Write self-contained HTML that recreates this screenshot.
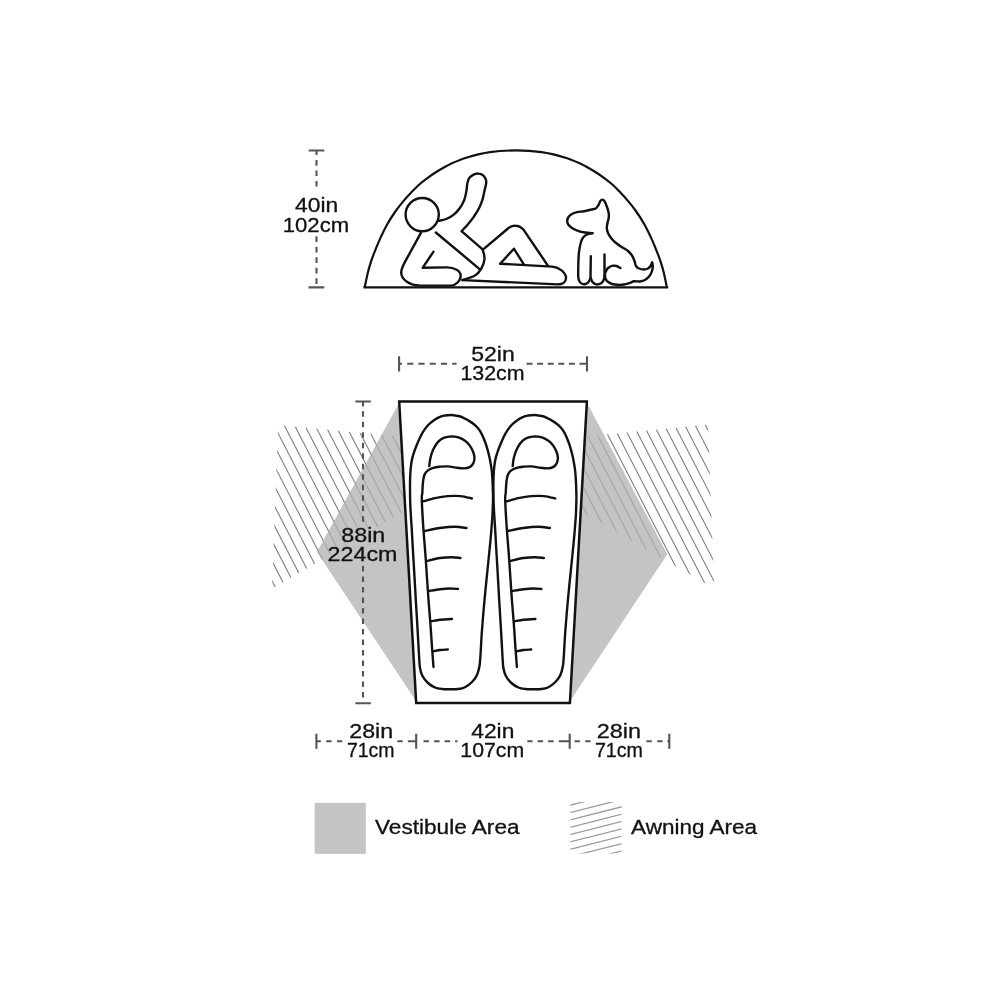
<!DOCTYPE html>
<html><head><meta charset="utf-8"><title>Tent dimensions</title>
<style>
html,body{margin:0;padding:0;background:#fff;}
body{width:1000px;height:1000px;overflow:hidden;font-family:"Liberation Sans",sans-serif;}
svg{display:block;}
</style></head><body>
<svg width="1000" height="1000" viewBox="0 0 1000 1000">
<rect width="1000" height="1000" fill="#fff"/>
<path d="M399.2 403L317 552L413.8 697.5L416 702Z" fill="#c4c4c4"/>
<path d="M587 403L667.2 554.2L573 696.5L570.2 702Z" fill="#c4c4c4"/>
<defs><clipPath id="cl"><path d="M278 424.9L400.5 436.7L404.6 511.6L272 588.8Z"/></clipPath><clipPath id="cr"><path d="M708 424.5L586 436.4L582 511.8L714.2 588.4Z"/></clipPath></defs>
<path clip-path="url(#cl)" d="M150.6 405L264 625M160.8 405L274.2 625M171.1 405L284.5 625M181.4 405L294.8 625M191.6 405L305 625M201.9 405L315.3 625M212.2 405L325.6 625M222.4 405L335.8 625M232.7 405L346.1 625M243 405L356.4 625M253.3 405L366.7 625M263.5 405L376.9 625M273.8 405L387.2 625M284.1 405L397.5 625M294.3 405L407.7 625M304.6 405L418 625M314.9 405L428.3 625M325.1 405L438.5 625M335.4 405L448.8 625M345.7 405L459.1 625M356 405L469.4 625M366.2 405L479.6 625M376.5 405L489.9 625M386.8 405L500.2 625M397 405L510.4 625M407.3 405L520.7 625M417.6 405L531 625" stroke="#7e7e7e" stroke-width="1.1" fill="none"/>
<path clip-path="url(#cr)" d="M473.7 414L587.1 634M484 414L597.4 634M494.3 414L607.7 634M504.5 414L617.9 634M514.8 414L628.2 634M525.1 414L638.5 634M535.3 414L648.7 634M545.6 414L659 634M555.9 414L669.3 634M566.2 414L679.6 634M576.4 414L689.8 634M586.7 414L700.1 634M597 414L710.4 634M607.2 414L720.6 634M617.5 414L730.9 634M627.8 414L741.2 634M638 414L751.4 634M648.3 414L761.7 634M658.6 414L772 634M668.9 414L782.3 634M679.1 414L792.5 634M689.4 414L802.8 634M699.7 414L813.1 634M709.9 414L823.3 634M720.2 414L833.6 634M730.5 414L843.9 634M740.7 414L854.1 634" stroke="#7e7e7e" stroke-width="1.1" fill="none"/>
<path d="M399.2 403L317 552L413.8 697.5L416 702ZM587 403L667.2 554.2L573 696.5L570.2 702Z" fill="#c4c4c4" opacity="0.55"/>
<path d="M399.2 401.5L586.9 401.5L569.9 703L416.2 703Z" fill="#fff" stroke="#111" stroke-width="2.5" stroke-linejoin="miter"/>
<g fill="none" stroke="#111" stroke-width="2.4" stroke-linecap="round" stroke-linejoin="round">
<path d="M419 655C418.6 648.7 418.1 639.2 417.6 630C417 620.8 416.4 610.8 415.8 600C415.2 589.2 414.5 576.7 413.8 565C413.1 553.3 412.3 540 411.8 530C411.2 520 410.6 512.7 410.3 505C410 497.3 410 489.5 410 484C410 478.5 410.2 475.3 410.4 472C410.6 468.7 410.9 466.4 411.2 464C411.5 461.6 411.9 459.7 412.4 457.6C412.9 455.5 413.6 453.5 414.4 451.2C415.2 448.9 416.2 446.4 417.2 444C418.2 441.6 419.3 439.1 420.4 436.8C421.5 434.5 422.7 432.3 424 430.4C425.3 428.5 426.4 426.9 428 425.2C429.6 423.5 431.6 421.8 433.6 420.4C435.6 419 438.1 417.6 440 416.8C441.9 415.9 443.2 415.8 445 415.5C446.8 415.2 449 415 451 415C453 415 455.2 415.4 457 415.8C458.8 416.1 460.1 416.4 462 417.2C463.9 418.1 466.4 419.2 468.6 420.6C470.8 421.9 473.1 423.5 475 425.2C476.9 426.9 478.4 428.6 479.8 430.7C481.2 432.8 482.3 435.2 483.4 437.8C484.5 440.4 485.7 443.5 486.6 446.4C487.5 449.3 488.3 452.4 489 455.2C489.7 458 490.1 460.5 490.6 463.2C491.1 465.9 491.5 468.5 491.8 471.2C492.1 473.9 492.2 476.4 492.4 479.2C492.6 482 492.7 484.5 492.8 488C492.9 491.5 493.1 495.5 493 500C492.9 504.5 492.7 510.5 492.5 515C492.3 519.5 491.9 522.8 491.6 527C491.3 531.2 491.1 533.7 490.5 540C489.9 546.3 489 555 488 565C487 575 485.5 589.2 484.5 600C483.5 610.8 482.7 620.8 482 630C481.3 639.2 480.9 649 480.5 655C480.1 661 480.1 662.7 479.5 666C478.9 669.3 478.2 672.3 477 675C475.8 677.7 474 680 472 682C470 684 467.3 686 465 687.2C462.7 688.4 460.5 688.7 458 689C455.5 689.3 452.7 689.2 450 689.2C447.3 689.2 444.5 689.3 442 689C439.5 688.7 437.3 688.5 435 687.5C432.7 686.5 430.1 684.9 428 683C425.9 681.1 423.8 678.5 422.5 676C421.2 673.5 420.6 671.5 420 668C419.4 664.5 419.4 661.3 419 655ZM429.3 466C429.5 465.1 429.6 462.3 430 460.1C430.5 457.9 431 455.3 431.8 453.1C432.6 450.9 433.4 448.8 434.6 446.8C435.8 444.8 437.2 442.7 438.8 441.2C440.4 439.7 442.3 438.5 444.4 437.7C446.5 436.9 449.1 436.5 451.4 436.4C453.7 436.4 456.2 436.7 458.4 437.3C460.6 438 462.8 439.2 464.7 440.5C466.6 441.8 468.2 443.5 469.6 445.4C471 447.3 472.3 449.6 473.1 451.7C473.9 453.8 474.5 456 474.5 458C474.5 460 473.9 462.1 473.1 463.6C472.3 465.1 471.1 466.3 469.6 467.1C468.1 467.9 466.1 468.2 464 468.4C461.9 468.5 459.7 468.1 457 467.8C454.3 467.5 450.8 466.6 447.9 466.4C445 466.2 442.1 466.5 439.5 466.7C436.9 467 434.5 467.5 432.5 468.1C430.5 468.8 428.9 469.6 427.6 470.6C426.3 471.6 425.5 472.7 424.8 474.1C424.1 475.5 423.7 477 423.4 479C423 481 422.9 483.7 422.7 486C422.5 488.3 422.5 490.7 422.3 493C422.2 495.3 421.6 493.8 421.8 500C422 506.2 422.8 520 423.5 530C424.2 540 425 548.3 425.8 560C426.6 571.7 427.7 589.2 428.5 600C429.3 610.8 429.9 616.7 430.5 625C431.1 633.3 431.7 643 432.2 650C432.7 657 433.3 664.2 433.5 667M423 501.4C425 500.9 430.9 499.1 435 498.2C439.1 497.3 443.5 496.5 447.8 496.1C452.1 495.8 456.6 495.7 460.6 496.1C464.6 496.5 469.9 498.1 471.8 498.5M424.5 531C427.1 530.5 434.9 528.7 440 528C445.1 527.3 450.6 526.8 455 526.8C459.4 526.8 464.6 527.8 466.5 528M426.5 561C428.8 560.5 435.8 558.6 440 558C444.2 557.4 448.6 557.2 452 557.2C455.4 557.2 459.1 557.9 460.5 558M429 591C430.8 590.7 436.5 589.6 440 589.2C443.5 588.8 447 588.5 450 588.5C453 588.5 456.7 588.9 458 589M431 621.2C432.5 621 436.5 620.2 440 619.8C443.5 619.4 450 619.1 452 619M432.8 651.5C434 651.2 437.5 650.3 440 650C442.5 649.7 446.5 649.6 447.8 649.5"/>
<path d="M419 655C418.6 648.7 418.1 639.2 417.6 630C417 620.8 416.4 610.8 415.8 600C415.2 589.2 414.5 576.7 413.8 565C413.1 553.3 412.3 540 411.8 530C411.2 520 410.6 512.7 410.3 505C410 497.3 410 489.5 410 484C410 478.5 410.2 475.3 410.4 472C410.6 468.7 410.9 466.4 411.2 464C411.5 461.6 411.9 459.7 412.4 457.6C412.9 455.5 413.6 453.5 414.4 451.2C415.2 448.9 416.2 446.4 417.2 444C418.2 441.6 419.3 439.1 420.4 436.8C421.5 434.5 422.7 432.3 424 430.4C425.3 428.5 426.4 426.9 428 425.2C429.6 423.5 431.6 421.8 433.6 420.4C435.6 419 438.1 417.6 440 416.8C441.9 415.9 443.2 415.8 445 415.5C446.8 415.2 449 415 451 415C453 415 455.2 415.4 457 415.8C458.8 416.1 460.1 416.4 462 417.2C463.9 418.1 466.4 419.2 468.6 420.6C470.8 421.9 473.1 423.5 475 425.2C476.9 426.9 478.4 428.6 479.8 430.7C481.2 432.8 482.3 435.2 483.4 437.8C484.5 440.4 485.7 443.5 486.6 446.4C487.5 449.3 488.3 452.4 489 455.2C489.7 458 490.1 460.5 490.6 463.2C491.1 465.9 491.5 468.5 491.8 471.2C492.1 473.9 492.2 476.4 492.4 479.2C492.6 482 492.7 484.5 492.8 488C492.9 491.5 493.1 495.5 493 500C492.9 504.5 492.7 510.5 492.5 515C492.3 519.5 491.9 522.8 491.6 527C491.3 531.2 491.1 533.7 490.5 540C489.9 546.3 489 555 488 565C487 575 485.5 589.2 484.5 600C483.5 610.8 482.7 620.8 482 630C481.3 639.2 480.9 649 480.5 655C480.1 661 480.1 662.7 479.5 666C478.9 669.3 478.2 672.3 477 675C475.8 677.7 474 680 472 682C470 684 467.3 686 465 687.2C462.7 688.4 460.5 688.7 458 689C455.5 689.3 452.7 689.2 450 689.2C447.3 689.2 444.5 689.3 442 689C439.5 688.7 437.3 688.5 435 687.5C432.7 686.5 430.1 684.9 428 683C425.9 681.1 423.8 678.5 422.5 676C421.2 673.5 420.6 671.5 420 668C419.4 664.5 419.4 661.3 419 655ZM429.3 466C429.5 465.1 429.6 462.3 430 460.1C430.5 457.9 431 455.3 431.8 453.1C432.6 450.9 433.4 448.8 434.6 446.8C435.8 444.8 437.2 442.7 438.8 441.2C440.4 439.7 442.3 438.5 444.4 437.7C446.5 436.9 449.1 436.5 451.4 436.4C453.7 436.4 456.2 436.7 458.4 437.3C460.6 438 462.8 439.2 464.7 440.5C466.6 441.8 468.2 443.5 469.6 445.4C471 447.3 472.3 449.6 473.1 451.7C473.9 453.8 474.5 456 474.5 458C474.5 460 473.9 462.1 473.1 463.6C472.3 465.1 471.1 466.3 469.6 467.1C468.1 467.9 466.1 468.2 464 468.4C461.9 468.5 459.7 468.1 457 467.8C454.3 467.5 450.8 466.6 447.9 466.4C445 466.2 442.1 466.5 439.5 466.7C436.9 467 434.5 467.5 432.5 468.1C430.5 468.8 428.9 469.6 427.6 470.6C426.3 471.6 425.5 472.7 424.8 474.1C424.1 475.5 423.7 477 423.4 479C423 481 422.9 483.7 422.7 486C422.5 488.3 422.5 490.7 422.3 493C422.2 495.3 421.6 493.8 421.8 500C422 506.2 422.8 520 423.5 530C424.2 540 425 548.3 425.8 560C426.6 571.7 427.7 589.2 428.5 600C429.3 610.8 429.9 616.7 430.5 625C431.1 633.3 431.7 643 432.2 650C432.7 657 433.3 664.2 433.5 667M423 501.4C425 500.9 430.9 499.1 435 498.2C439.1 497.3 443.5 496.5 447.8 496.1C452.1 495.8 456.6 495.7 460.6 496.1C464.6 496.5 469.9 498.1 471.8 498.5M424.5 531C427.1 530.5 434.9 528.7 440 528C445.1 527.3 450.6 526.8 455 526.8C459.4 526.8 464.6 527.8 466.5 528M426.5 561C428.8 560.5 435.8 558.6 440 558C444.2 557.4 448.6 557.2 452 557.2C455.4 557.2 459.1 557.9 460.5 558M429 591C430.8 590.7 436.5 589.6 440 589.2C443.5 588.8 447 588.5 450 588.5C453 588.5 456.7 588.9 458 589M431 621.2C432.5 621 436.5 620.2 440 619.8C443.5 619.4 450 619.1 452 619M432.8 651.5C434 651.2 437.5 650.3 440 650C442.5 649.7 446.5 649.6 447.8 649.5" transform="translate(83.4 0)"/>
</g>
<g stroke="#555" stroke-width="2.1" fill="none">
<path d="M308.7 150.5H324.3M308.5 287.4H324.3M355.4 401.5H370.8M355.4 703.2H370.8M399.1 356.2V371.5M587 356.2V371.5M316.4 733.8V748.8M416.2 733.8V748.8M569.7 733.8V748.8M669.3 733.8V748.8M316.5 150.5V154.9M316.5 160.1V165.7M316.5 170.5V176.1M316.5 181V186.6M316.5 236.2V242M316.5 246.7V252.5M316.5 257.2V263M316.5 267.7V273.5M316.5 278.2V284M363 401.5V406.4M363 411.3V416.8M363 421.8V427.3M363 432.3V437.8M363 442.8V448.3M363 453.3V458.8M363 463.8V469.3M363 474.3V479.8M363 484.8V490.3M363 495.3V500.8M363 505.8V511.3M363 516.3V521.8M363 566V571.4M363 576.5V581.9M363 587V592.4M363 597.5V602.9M363 608V613.4M363 618.5V623.9M363 629V634.4M363 639.5V644.9M363 650V655.4M363 660.5V665.9M363 671V676.4M363 681.5V686.9M363 692V697.4M399.1 363.8H402M407.2 363.8H413.3M418.4 363.8H424.6M429.7 363.8H435.8M440.9 363.8H447.1M452.2 363.8H456.6M526.5 363.8H532.5M537.1 363.8H543.1M547.7 363.8H553.7M558.3 363.8H564.3M568.9 363.8H574.9M579.5 363.8H587M316.4 741.2H320.8M326.2 741.2H331.6M337 741.2H342.3M397.4 741.2H402.7M407.8 741.2H416.2M423.5 741.2H429M434.1 741.2H439.6M444.6 741.2H450.1M455.1 741.2H457.5M527.3 741.2H532.6M537.6 741.2H543.1M548.1 741.2H553.7M558.8 741.2H569.7M574.6 741.2H579.9M585.2 741.2H590.6M646.4 741.2H651.8M657.2 741.2H662.6M667.4 741.2H669.3"/>
</g>
<g font-family="'Liberation Sans', sans-serif" fill="#111" stroke="#111" stroke-width="0.3" style="filter:grayscale(1)">
<text x="294.99" y="212.3" font-size="20.8" textLength="43.20" lengthAdjust="spacingAndGlyphs">40in</text>
<text x="282.72" y="231.7" font-size="20.8" textLength="66.45" lengthAdjust="spacingAndGlyphs">102cm</text>
<text x="471.22" y="360.9" font-size="20.8" textLength="43.51" lengthAdjust="spacingAndGlyphs">52in</text>
<text x="460.42" y="379.9" font-size="20.8" textLength="64.14" lengthAdjust="spacingAndGlyphs">132cm</text>
<text x="341.19" y="541.8" font-size="20.8" textLength="44.14" lengthAdjust="spacingAndGlyphs">88in</text>
<text x="327.61" y="560.6" font-size="20.8" textLength="69.83" lengthAdjust="spacingAndGlyphs">224cm</text>
<text x="349.23" y="738.1" font-size="20.8" textLength="43.93" lengthAdjust="spacingAndGlyphs">28in</text>
<text x="346.90" y="757.4" font-size="20.8" textLength="47.75" lengthAdjust="spacingAndGlyphs">71cm</text>
<text x="471.23" y="738.1" font-size="20.8" textLength="43.11" lengthAdjust="spacingAndGlyphs">42in</text>
<text x="460.34" y="757.4" font-size="20.8" textLength="63.88" lengthAdjust="spacingAndGlyphs">107cm</text>
<text x="596.70" y="738.1" font-size="20.8" textLength="44.30" lengthAdjust="spacingAndGlyphs">28in</text>
<text x="594.90" y="757.4" font-size="20.8" textLength="48.05" lengthAdjust="spacingAndGlyphs">71cm</text>
<text x="375.05" y="833.8" font-size="20.5" textLength="144.50" lengthAdjust="spacingAndGlyphs">Vestibule Area</text>
<text x="631.11" y="833.8" font-size="20.5" textLength="126.04" lengthAdjust="spacingAndGlyphs">Awning Area</text>
</g>
<rect x="314.7" y="802.9" width="51.1" height="50.9" fill="#c4c4c4"/>
<defs><clipPath id="lg"><rect x="570.4" y="802" width="51.2" height="51.6"/></clipPath></defs>
<path clip-path="url(#lg)" d="M560 800.4L632 782.2M560 807.8L632 789.5M560 815.1L632 796.9M560 822.5L632 804.2M560 829.8L632 811.6M560 837.1L632 818.9M560 844.5L632 826.3M560 851.9L632 833.6M560 859.2L632 841M560 866.5L632 848.3M560 873.9L632 855.7" stroke="#999" stroke-width="1.25" fill="none"/>
<g fill="none" stroke="#111" stroke-width="2.4" stroke-linecap="round" stroke-linejoin="round">
<path d="M364.7 287.4C365.2 285 366.8 277.1 367.8 272.8C368.9 268.5 369.7 265.6 371 261.6C372.3 257.6 374.2 252.8 375.8 248.8C377.4 244.8 378.7 241.6 380.6 237.6C382.5 233.6 384.6 229.1 387 224.8C389.4 220.5 392.3 215.9 395 212C397.7 208.1 400.3 204.8 403 201.6C405.7 198.4 408.3 195.6 411 192.8C413.7 190 416.3 187.2 419 184.8C421.7 182.4 424.3 180.4 427 178.4C429.7 176.4 432.3 174.5 435 172.8C437.7 171.1 440.3 169.5 443 168C445.7 166.5 447 165.4 451 163.7C455 161.9 460.5 159.4 467 157.5C473.5 155.6 481.9 153.4 490 152.2C498.1 151 507.2 150.4 515.8 150.4C524.4 150.4 533.5 151 541.6 152.2C549.7 153.4 558.1 155.6 564.6 157.5C571.1 159.4 576.6 161.9 580.6 163.7C584.6 165.4 585.9 166.5 588.6 168C591.3 169.5 593.9 171.1 596.6 172.8C599.3 174.5 601.9 176.4 604.6 178.4C607.3 180.4 609.9 182.4 612.6 184.8C615.3 187.2 617.9 190 620.6 192.8C623.3 195.6 625.9 198.4 628.6 201.6C631.3 204.8 633.9 208.1 636.6 212C639.3 215.9 642.2 220.5 644.6 224.8C647 229.1 649.1 233.6 651 237.6C652.9 241.6 654.2 244.8 655.8 248.8C657.4 252.8 659.3 257.6 660.6 261.6C661.9 265.6 662.8 268.5 663.8 272.8C664.8 277.1 666.4 285 666.9 287.4" stroke-linejoin="miter" stroke-linecap="butt" stroke-width="2.2"/>
<circle cx="422.2" cy="214.6" r="16.6"/>
<path d="M439 220.8C440.2 220.5 443.8 220 446.2 219C448.6 218 451.1 216.8 453.4 214.9C455.6 213.1 457.9 210.7 459.7 208.2C461.5 205.7 463.1 202.9 464.2 200.1C465.3 197.2 465.9 193.9 466.4 191.1C467 188.2 466.8 185.2 467.4 183C467.9 180.8 468.5 179 469.6 177.6C470.7 176.2 472.6 175.1 474.1 174.4C475.6 173.8 477.1 173.4 478.6 173.6C480.1 173.7 481.9 174.4 483.1 175.3C484.3 176.3 485.3 178.1 485.8 179.4C486.3 180.7 486.5 181.1 486.2 183C486 184.9 485.1 188.4 484.4 191.1C483.8 193.8 483.5 196.5 482.6 199.2C481.8 201.9 480.9 204.5 479.5 207.3C478.1 210.2 476.1 213.5 474.1 216.3C472.2 219.2 469.9 221.9 467.8 224.4C465.7 226.9 462.6 230 461.5 231.2L482.9 249.6"/>
<path d="M482.9 249.6L508.6 228C509.2 227.7 510.9 226.6 512.1 226.2C513.3 225.8 514.4 225.7 515.6 225.8C516.8 225.8 518.2 226 519.5 226.6C520.8 227.2 522.7 228.9 523.3 229.4L548 265.8"/>
<path d="M500.2 263.7L552 266.6C558 266.9 566 272 566 278C566 282 562.5 284.4 558 284.4L462.4 280.1"/>
<path d="M482.7 249.7C483 251.2 484.8 255.6 484.5 258.8C484.3 261.9 482.9 265.8 481.3 268.6C479.7 271.4 478.1 273.7 475 275.6C471.8 277.5 464.5 279.3 462.4 280.1"/>
<path d="M500.2 263.7L513.9 248.7L524 264.7"/>
<path d="M435.8 232.5L479.9 269.3"/>
<path d="M420.9 232.8L407 258.2C404.3 263.3 401.2 267.6 401.2 272.6C401.2 279.8 410 285.6 420 285.6L451 285.6C455.6 285.6 460.7 280.6 460.7 275.8C460.7 271 454.5 267.4 447 267.4L422.6 267.8L433.4 251.8"/>
<path d="M592.5 233.2C591.2 233.1 587.4 232.9 585 232.5C582.6 232.1 580.2 231.6 578 230.8C575.8 230.1 573.6 229.1 572 228C570.4 226.9 569 225.7 568.2 224.5C567.4 223.3 567.2 222.2 567.2 221C567.2 219.8 567.7 218.2 568.5 217C569.3 215.8 570.6 214.8 572 214C573.4 213.2 575 212.7 577 212.2C579 211.7 581.7 211.6 584 211.2C586.3 210.8 589 210.1 591 209.6C593 209.1 594.5 209.2 595.8 208.4C597 207.6 597.7 206.3 598.5 205C599.3 203.7 599.8 201.7 600.5 200.8C601.2 199.9 601.8 199.5 602.5 199.6C603.2 199.7 603.8 200 604.5 201.2C605.2 202.4 606.3 205 607 207C607.7 209 608.4 211.2 608.7 213C609 214.8 608.9 216.3 608.7 218C608.5 219.7 607.8 221.3 607.5 223C607.2 224.7 606.7 226.3 606.8 228C606.9 229.7 607.3 231.3 608 233C608.7 234.7 609.7 236.3 611 238C612.3 239.7 614.2 241.5 616 243C617.8 244.5 620 245.9 622 247.2C624 248.5 626.3 249.6 628 251C629.7 252.4 630.9 253.8 632 255.5C633.1 257.2 633.8 259.2 634.5 261C635.2 262.8 635.2 264.8 636 266C636.8 267.2 637.7 267.9 639 268.5C640.3 269.1 642.5 269.5 644 269.5C645.5 269.5 646.9 269.1 648 268.5C649.1 267.9 649.8 267.1 650.5 266C651.2 264.9 651.9 262.8 652.2 262.2C652.3 262.8 652.8 264.5 652.8 266C652.8 267.5 652.5 269.3 652 271C651.5 272.7 650.7 274.5 649.5 276C648.3 277.5 646.6 279.1 645 280C643.4 280.9 641.8 281.3 640 281.5C638.2 281.7 635.7 281.1 634 281.3C632.3 281.5 631.7 282.3 630 282.8C628.3 283.3 626 284.2 624 284.5C622 284.8 620 284.9 618 284.8C616 284.7 613.8 284.6 612 284C610.2 283.4 608.6 282.4 607.5 281.5C606.4 280.6 605.9 279.6 605.5 278.5C605.1 277.4 605 276.1 605 275C605 273.9 605 273.2 605.5 272C606 270.8 606.9 269 608 268C609.1 267 610.6 266.1 612 265.8C613.4 265.5 615.1 265.6 616.5 266C617.9 266.4 619.8 267.7 620.5 268"/>
<path d="M592.5 233.2C591.6 233.4 588.5 233.9 587 234.5C585.5 235.1 584.5 235.8 583.5 237C582.5 238.2 581.8 239.5 581 242C580.2 244.5 579.5 248.2 579 252C578.5 255.8 578.4 260.8 578.3 265C578.2 269.2 578.1 274.2 578.3 277C578.5 279.8 578.8 280.3 579.5 281.5C580.2 282.7 581.5 283.6 582.5 284C583.5 284.4 584.5 284.3 585.5 284C586.5 283.7 587.7 283 588.5 282C589.3 281 590.2 278.7 590.5 278L590.8 256.2"/>
<path d="M590.7 278C591 278.7 591.7 281 592.5 282C593.3 283 594.4 283.8 595.5 284.2C596.6 284.6 597.9 284.5 599 284.2C600.1 283.9 601.2 283.4 602 282.5C602.8 281.6 603.6 280.2 604 279C604.4 277.8 604.4 275.7 604.5 275L604.5 254.5"/>
</g>
<path d="M363.4 287.4H668.2" stroke="#111" stroke-width="2.4" fill="none"/>
</svg>
</body></html>
